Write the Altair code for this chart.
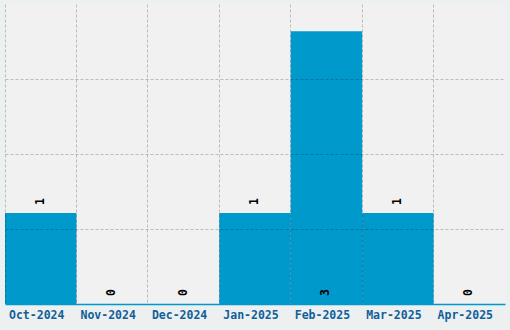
import altair as alt
import pandas as pd

months = ["Oct-2024", "Nov-2024", "Dec-2024", "Jan-2025", "Feb-2025", "Mar-2025", "Apr-2025"]
counts = [1, 0, 0, 1, 3, 1, 0]

df = pd.DataFrame({"month": months, "count": counts})

x = alt.X("month:N", sort=months, title=None,
          scale=alt.Scale(paddingInner=0, paddingOuter=0),
          axis=alt.Axis(bandPosition=0, grid=True, gridColor="#000000", gridOpacity=0.22,
                        gridDash=[3, 2], gridWidth=1, ticks=False, domain=True,
                        domainColor="#0099cc", domainWidth=1.5, labelAngle=0,
                        labelFont="DejaVu Sans Mono", labelFontWeight="bold",
                        labelFontSize=11.5, labelColor="#11609a", labelPadding=5,
                        labelOffset=-4, zindex=1))

bars = alt.Chart(df).mark_bar(color="#0099cc", opacity=1).encode(
    x=x,
    y=alt.Y("count:Q", title=None,
            scale=alt.Scale(domain=[0, 3.3], nice=False, zero=True),
            axis=alt.Axis(values=[0.825, 1.65, 2.475], grid=True, gridColor="#000000",
                          gridOpacity=0.22, gridDash=[3, 2], labels=False, ticks=False,
                          domain=False, zindex=1)),
)

labels = alt.Chart(df).transform_calculate(
    pos="datum.count >= 3 ? 0 : datum.count"
).mark_text(angle=270, align="left", baseline="middle", dx=8,
            font="DejaVu Sans Mono", fontWeight="bold", fontSize=11.5, color="#000000").encode(
    x=alt.X("month:N", sort=months),
    y=alt.Y("pos:Q"),
    text="count:Q",
)

chart = alt.layer(bars, labels).properties(
    width=500, height=300,
    background="#edf0f1",
    padding={"left": 5, "top": 4, "right": 5, "bottom": 26},
    autosize=alt.AutoSizeParams(type="none"),
).configure_view(fill="#f1f1f1", stroke=None)

chart.save("out.html", embed_options={"renderer": "svg", "actions": False})
